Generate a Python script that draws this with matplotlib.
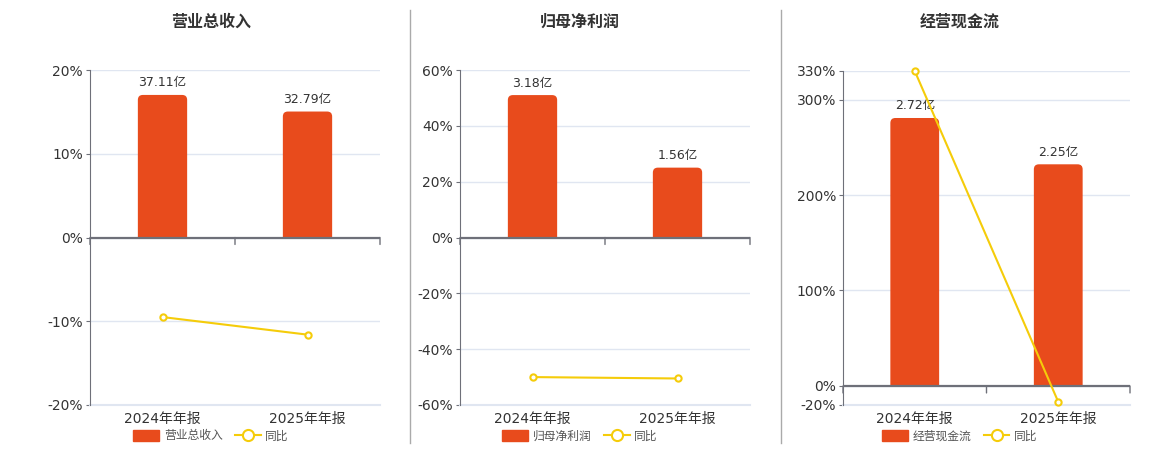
import matplotlib.pyplot as plt
import matplotlib.transforms as mtransforms
from matplotlib.lines import Line2D
from matplotlib.patches import Patch, FancyBboxPatch, Rectangle

plt.rcParams['font.family'] = ['DejaVu Sans', 'Noto Sans CJK SC']

# data
categories = ['2024年年报', '2025年年报']
titles = ['营业总收入', '归母净利润', '经营现金流']
bar_values = [[37.11, 32.79], [3.18, 1.56], [2.72, 2.25]]   # 亿
yoy_values = [[-9.5, -11.6], [-50.0, -50.5], [330.0, -16.7]]  # %
y_ticks = [[-20, -10, 0, 10, 20],
           [-60, -40, -20, 0, 20, 40, 60],
           [-20, 0, 100, 200, 300, 330]]
y_limits = [(-20, 20), (-60, 60), (-20, 330)]
# bar axis limits chosen so bar zero lines up with the percent zero
bar_limits = [(-43.6, 43.6), (-3.74, 3.74), (-0.193, 3.197)]

BAR_COLOR = '#e84b1c'
LINE_COLOR = '#f5cc0a'
AXIS_COLOR = '#6e7079'
GRID_COLOR = '#e0e6f1'
TEXT_COLOR = '#333333'

fig = plt.figure(figsize=(11.6, 4.5), dpi=100)

# axes boxes in pixels: left, right, top, bottom; plus title/legend centre
boxes = [(90, 380, 70, 405), (460, 750, 70, 405), (843, 1130, 71, 405)]
centres = [211, 580, 960]

for i in range(3):
    l, r, t, b = boxes[i]
    ax = fig.add_axes([l / 1160, 1 - b / 450, (r - l) / 1160, (b - t) / 450])
    ax.set_xlim(-0.5, 1.5)
    ax.set_ylim(*y_limits[i])
    ax.set_yticks(y_ticks[i])
    ax.set_yticklabels(['%d%%' % v for v in y_ticks[i]])
    ax.tick_params(axis='y', length=3, color=AXIS_COLOR, labelsize=10,
                   labelcolor=TEXT_COLOR, pad=2)
    ax.set_xticks([])
    for s in ['top', 'right', 'bottom']:
        ax.spines[s].set_visible(False)
    ax.spines['left'].set_color(AXIS_COLOR)
    ax.grid(axis='y', color=GRID_COLOR, lw=1)
    ax.set_axisbelow(True)
    ax.axhline(y_limits[i][0], color=GRID_COLOR, lw=1.5, clip_on=False)

    # bars on a hidden twin axis, with rounded tops
    bx = ax.twinx()
    bx.set_ylim(*bar_limits[i])
    bx.axis('off')
    bars = bx.bar(range(2), bar_values[i], width=0.34, color=BAR_COLOR, zorder=2)
    y_per_px = (bar_limits[i][1] - bar_limits[i][0]) / (b - t)
    x_per_px = 2.0 / (r - l)
    rad = 5 * x_per_px
    for rect, v in zip(bars, bar_values[i]):
        rect.set_visible(False)
        rb = FancyBboxPatch((rect.get_x(), -5 * y_per_px), rect.get_width(),
                            v + 5 * y_per_px,
                            boxstyle='round,pad=0,rounding_size=%f' % rad,
                            mutation_aspect=y_per_px / x_per_px,
                            facecolor=BAR_COLOR, edgecolor='none', zorder=2)
        bx.add_patch(rb)
        clip = Rectangle((rect.get_x() - 0.1, 0), rect.get_width() + 0.2,
                         v * 2, transform=bx.transData)
        rb.set_clip_path(clip)
        bx.annotate('%.2f亿' % v, (rect.get_x() + rect.get_width() / 2, v),
                    xytext=(0, 4), textcoords='offset points', ha='center',
                    va='bottom', fontsize=9, color=TEXT_COLOR)

    # zero axis line with boundary ticks
    bx.axhline(0, color=AXIS_COLOR, lw=1.6, zorder=3)
    for xb in [-0.5, 0.5, 1.5]:
        bx.annotate('', xy=(xb, 0), xytext=(0, -5), textcoords='offset points',
                    arrowprops=dict(arrowstyle='-', color=AXIS_COLOR, lw=1,
                                    shrinkA=0, shrinkB=0))

    # yoy line on top
    lx = ax.twinx()
    lx.set_ylim(*y_limits[i])
    lx.axis('off')
    lx.plot(range(2), yoy_values[i], color=LINE_COLOR, lw=1.5, marker='o',
            markersize=4.5, markerfacecolor='white', markeredgecolor=LINE_COLOR,
            markeredgewidth=1.5, zorder=4, clip_on=False)

    # category labels under the axes
    xt = mtransforms.blended_transform_factory(ax.transData, ax.transAxes)
    for k, c in enumerate(categories):
        ax.text(k, -0.02, c, transform=xt, ha='center', va='top',
                fontsize=10, color=TEXT_COLOR)

    # title
    fig.text(centres[i] / 1160, 1 - 22 / 450, titles[i], ha='center',
             va='center', fontsize=11.5, fontweight='bold', color=TEXT_COLOR)

    # legend
    handles = [Patch(facecolor=BAR_COLOR, edgecolor=BAR_COLOR),
               Line2D([0], [0], color=LINE_COLOR, lw=1.5, marker='o',
                      markersize=8, markerfacecolor='white',
                      markeredgewidth=1.5)]
    fig.legend(handles, [titles[i], '同比'], loc='center',
               bbox_to_anchor=(centres[i] / 1160, 1 - 436 / 450), ncol=2,
               frameon=False, fontsize=8.5, handlelength=2.2, handleheight=1.1,
               columnspacing=1.0, handletextpad=0.4, labelcolor='#555555')

# separators between panels
for xs in [410, 781]:
    fig.add_artist(Line2D([xs / 1160, xs / 1160], [1 - 443 / 450, 1 - 10 / 450],
                          color='#aaaaaa', lw=1))

fig.savefig('out.png', dpi=100)
